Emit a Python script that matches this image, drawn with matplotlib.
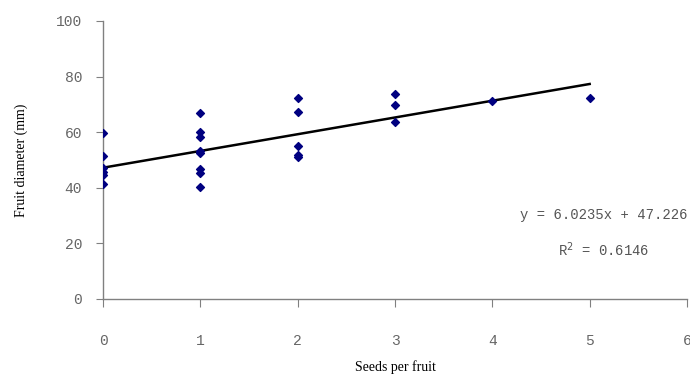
import matplotlib
matplotlib.use("Agg")
import matplotlib.pyplot as plt

# seeds per fruit vs fruit diameter (mm)
seeds = [0, 0, 0, 0, 0, 0,
         1, 1, 1, 1, 1, 1, 1, 1,
         2, 2, 2, 2, 2,
         3, 3, 3,
         4, 5]
diameter = [59.6, 51.5, 47.0, 45.8, 44.6, 41.5,
            67.0, 60.0, 58.2, 53.4, 52.4, 46.6, 45.2, 40.2,
            72.4, 67.1, 55.0, 51.8, 51.0,
            73.9, 69.8, 63.8,
            71.3, 72.2]

slope = 6.0235
intercept = 47.226
r2 = 0.6146
fit_x = [0, 5]

xticks = [0, 1, 2, 3, 4, 5, 6]
yticks = [0, 20, 40, 60, 80, 100]

fig = plt.figure(figsize=(6.9, 3.81), dpi=100)
ax = fig.add_axes([103 / 690, 82 / 381, 584 / 690, 278 / 381])

ax.scatter(seeds, diameter, marker="D", s=16, color="#000080", zorder=3)
ax.plot(fit_x, [intercept + slope * x for x in fit_x], color="black", lw=1.8, zorder=2)

ax.set_xlim(0, 6)
ax.set_ylim(0, 100)
ax.set_xticks(xticks)
ax.set_yticks(yticks)

for side in ["top", "right"]:
    ax.spines[side].set_visible(False)
for side in ["left", "bottom"]:
    ax.spines[side].set_color("#808080")
    ax.spines[side].set_linewidth(1.0)

ax.tick_params(axis="y", direction="out", length=5, color="#808080", pad=10,
               labelsize=10.5, labelcolor="#666666")
ax.tick_params(axis="x", direction="out", length=6, color="#808080", pad=19,
               labelsize=10.5, labelcolor="#666666")
for lab in ax.get_xticklabels() + ax.get_yticklabels():
    lab.set_family("Liberation Mono")

ax.set_xlabel("Seeds per fruit", family="Liberation Serif", fontsize=10, labelpad=9)
ax.set_ylabel("Fruit diameter (mm)", family="Liberation Serif", fontsize=10, labelpad=20)

ax.text(4.28, 30.2, "y = %.4fx + %.3f" % (slope, intercept), family="Liberation Mono",
        fontsize=10, color="#555555", va="center")
ax.text(4.67, 17.6, "R$^2$ = %.4f" % r2, family="Liberation Mono",
        fontsize=10, color="#555555", va="center")

fig.savefig("out.png", dpi=100)
